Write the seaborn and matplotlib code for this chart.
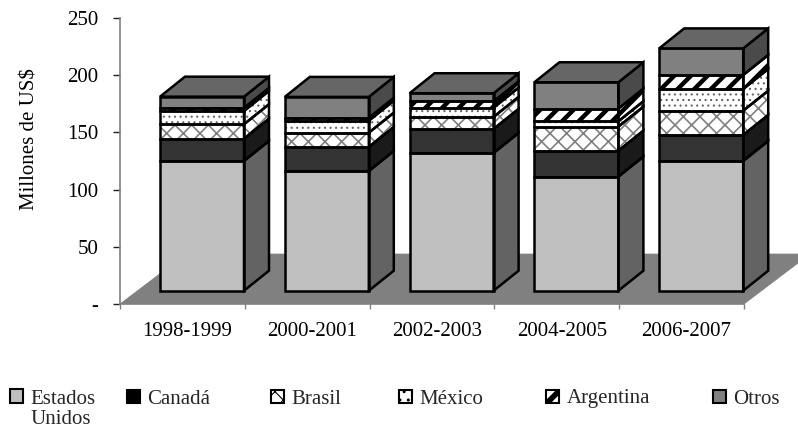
import matplotlib
matplotlib.use("Agg")
import matplotlib.pyplot as plt
from matplotlib.patches import Polygon, Patch
import numpy as np
import seaborn as sns

periods = ["1998-1999", "2000-2001", "2002-2003", "2004-2005", "2006-2007"]
series_names = ["Estados\nUnidos", "Canadá", "Brasil", "México", "Argentina", "Otros"]
estados_unidos = [113.4, 104.6, 120.4, 99.7, 113.4]
canada = [19.5, 21.0, 21.0, 22.7, 22.7]
brasil = [12.6, 12.5, 10.5, 21.0, 21.2]
mexico = [11.6, 10.5, 8.1, 4.7, 19.0]
argentina = [2.6, 2.4, 5.4, 11.0, 12.2]
otros = [9.9, 18.4, 7.2, 23.1, 23.3]
series_values = [estados_unidos, canada, brasil, mexico, argentina, otros]
y_ticks = [0, 50, 100, 150, 200, 250]
y_labels = ["-", "50", "100", "150", "200", "250"]

sns.set_style("white")
plt.rcParams["font.family"] = ["Liberation Serif", "DejaVu Sans"]
FS = 15
plt.rcParams["font.size"] = FS

W, H = 798, 429
L, R, T, B = 120, 798, 18, 304
CAT_PX = 124.8
PX_UNIT = (B - T) / 250

face = ["#c0c0c0", "#333333", "white", "white", "white", "#808080"]
side = ["#636363", "#1a1a1a", "white", "white", "white", "#4a4a4a"]
top_color = "#666666"
hatches = [None, None, "xx", "...", "//", None]
hatch_col = ["#c0c0c0", "#333333", "#808080", "#666666", "black", "#808080"]
hatch_lw = [0, 0, 1.2, 0.8, 3.2, 0]
legend_face = ["#c0c0c0", "black", "white", "white", "white", "#808080"]
legend_hatch = [None, None, "xx", "..", "//", None]
legend_hatch_lw = [1, 1, 0.8, 1, 4, 1]
legend_x = [10, 127, 271, 399, 546, 713]

fig = plt.figure(figsize=(W / 100, H / 100), dpi=100)
ax = fig.add_axes([L / W, 1 - B / H, (R - L) / W, (B - T) / H])

centers = np.arange(len(periods), dtype=float)
bar_w = 84 / CAT_PX
depth_x, depth_y = 25 / CAT_PX, 20 / PX_UNIT
shift_x, base_y = 19.6 / CAT_PX, 13.3 / PX_UNIT
floor_x, floor_y = 66 / CAT_PX, 50 / PX_UNIT
label_shift = 5 / CAT_PX
edge_lw = 1.8

x0, x1 = centers[0] - 0.5, centers[-1] + 0.5
ax.add_patch(Polygon([(x0, 0), (x1, 0), (x1 + floor_x, floor_y), (x0 + floor_x, floor_y)],
                     closed=True, facecolor="#808080", edgecolor="#808080", lw=0.5, zorder=1))

bottoms = np.full(len(periods), base_y)
for i, vals in enumerate(series_values):
    vals = np.asarray(vals, dtype=float)
    plt.rcParams["hatch.linewidth"] = hatch_lw[i] or 1
    sns.barplot(x=centers + shift_x, y=vals, bottom=bottoms, native_scale=True, width=bar_w,
                color=face[i], saturation=1, edgecolor=hatch_col[i], linewidth=0,
                hatch=hatches[i], errorbar=None, ax=ax, zorder=3)
    sns.barplot(x=centers + shift_x, y=vals, bottom=bottoms, native_scale=True, width=bar_w,
                color="black", saturation=1, fill=False, linewidth=edge_lw,
                errorbar=None, ax=ax, zorder=4)
    for r in ax.containers[-1]:
        xr = r.get_x() + r.get_width()
        yb, yt = r.get_y(), r.get_y() + r.get_height()
        pts = [(xr, yb), (xr + depth_x, yb + depth_y), (xr + depth_x, yt + depth_y), (xr, yt)]
        ax.add_patch(Polygon(pts, closed=True, facecolor=side[i], edgecolor=hatch_col[i], lw=0,
                             hatch=hatches[i], zorder=3))
        ax.add_patch(Polygon(pts, closed=True, fill=False, edgecolor="black", lw=edge_lw, zorder=4))
    bottoms = bottoms + vals

for r in ax.containers[-1]:
    xl, xr = r.get_x(), r.get_x() + r.get_width()
    yt = r.get_y() + r.get_height()
    ax.add_patch(Polygon([(xl, yt), (xr, yt), (xr + depth_x, yt + depth_y), (xl + depth_x, yt + depth_y)],
                         closed=True, facecolor=top_color, edgecolor="black", lw=edge_lw, zorder=4))

ax.set_xlim(x0, x0 + (R - L) / CAT_PX)
ax.set_ylim(0, 250)
ax.set_xlabel("")
ax.set_yticks(y_ticks, y_labels)
ax.set_xticks(np.append(centers - 0.5, x1), [""] * (len(periods) + 1))
ax.set_xticks(centers + label_shift, periods, minor=True)
ax.tick_params(axis="x", which="major", length=5 / 1.39, width=1, color="#808080", bottom=True)
ax.tick_params(axis="x", which="minor", length=0, pad=13, labelsize=FS, colors="black")
ax.tick_params(axis="y", length=5, width=1, color="#222222", pad=10.4, labelsize=FS, left=True, labelcolor="black")
ax.set_ylabel("Millones de US$", fontsize=FS, color="black")
ax.yaxis.set_label_coords((40 - L) / (R - L), (B - 139) / (B - T))
for s in ["top", "right"]:
    ax.spines[s].set_visible(False)
for s in ["left", "bottom"]:
    ax.spines[s].set_color("#808080")
    ax.spines[s].set_linewidth(1.2)
ax.spines["bottom"].set_bounds(x0, x1)

for name, fc, h, hl, lx in zip(series_names, legend_face, legend_hatch, legend_hatch_lw, legend_x):
    plt.rcParams["hatch.linewidth"] = hl
    leg = fig.legend(handles=[Patch(facecolor=fc, edgecolor="black", hatch=h, lw=1.5)], labels=[name],
                     loc="upper left", bbox_to_anchor=(lx / W, 1 - 389.5 / H), frameon=False,
                     borderpad=0, borderaxespad=0, handlelength=0.6, handleheight=0.6,
                     handletextpad=0.38, labelspacing=0, fontsize=FS)
    if "\n" in name:
        leg.get_texts()[0].set_linespacing(1.08)
        row = leg._legend_handle_box.get_children()[0].get_children()[0]
        row.align = "top"
        row.get_children()[1]._multilinebaseline = False

fig.savefig("out.png", dpi=100)
